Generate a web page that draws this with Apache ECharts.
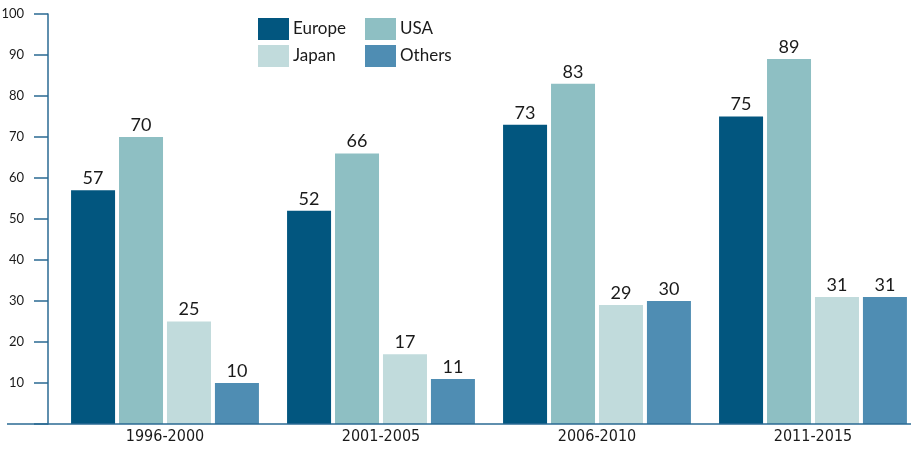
<!DOCTYPE html>
<html>
<head>
<meta charset="UTF-8">
<title>Chart</title>
<script src="https://cdn.jsdelivr.net/npm/echarts@6/dist/echarts.min.js"></script>
<style>
  body { margin: 0; background: #fff; }
  #main { width: 911px; height: 449px; }
</style>
</head>
<body>
<div id="main"></div>
<script>
// data
const periods = ['1996-2000', '2001-2005', '2006-2010', '2011-2015'];
const europe = [57, 52, 73, 75];
const usa = [70, 66, 83, 89];
const japan = [25, 17, 29, 31];
const others = [10, 11, 30, 31];
const yTicks = [10, 20, 30, 40, 50, 60, 70, 80, 90, 100];

const colors = {
  Europe: '#02567f',
  USA: '#8ebfc3',
  Japan: '#c1dbdc',
  Others: '#4f8db3'
};

const FONT = 'Lato';

function bar(name, values) {
  return {
    name: name,
    type: 'bar',
    data: values,
    barWidth: 44,
    barGap: '9%',
    barCategoryGap: '13%',
    itemStyle: { color: colors[name] },
    label: {
      show: true,
      position: 'top',
      distance: 3,
      fontFamily: FONT,
      fontSize: 18,
      color: '#1a1a1a'
    }
  };
}

const chart = echarts.init(document.getElementById('main'), null, { renderer: 'canvas' });

const legendBase = {
  orient: 'vertical',
  top: 13,
  itemWidth: 31,
  itemHeight: 22,
  itemGap: 5,
  icon: 'rect',
  textStyle: { fontFamily: FONT, fontSize: 17, color: '#1a1a1a', padding: [0, 0, 0, -1] }
};

chart.setOption({
  animation: false,
  backgroundColor: '#fff',
  legend: [
    Object.assign({}, legendBase, { left: 253, data: ['Europe', 'Japan'] }),
    Object.assign({}, legendBase, { left: 360, data: ['USA', 'Others'] })
  ],
  grid: { left: 57, top: 14, width: 864, bottom: 25, outerBoundsMode: 'none', containLabel: false },
  xAxis: {
    type: 'category',
    data: periods,
    axisLine: { show: false },
    axisTick: { show: false },
    axisLabel: { fontFamily: 'DejaVu Sans Condensed', fontSize: 16, color: '#1a1a1a', margin: 5 }
  },
  yAxis: {
    type: 'value',
    min: 0,
    max: 100,
    interval: 10,
    offset: 9,
    axisLine: { show: true, lineStyle: { color: '#2a6a93', width: 1.5 } },
    axisTick: { show: true, inside: false, length: 14, lineStyle: { color: '#2a6a93', width: 1.5 } },
    splitLine: { show: false },
    axisLabel: {
      fontFamily: FONT,
      fontSize: 13,
      color: '#1a1a1a',
      margin: 24,
      formatter: function (v) { return yTicks.indexOf(v) >= 0 ? String(v) : ''; }
    }
  },
  series: [
    bar('Europe', europe),
    bar('USA', usa),
    bar('Japan', japan),
    bar('Others', others)
  ]
});

// baseline that runs past the value axis to the left edge
const y0 = chart.convertToPixel({ yAxisIndex: 0 }, 0);
chart.setOption({
  graphic: [{
    type: 'line',
    shape: { x1: 7, y1: y0, x2: 911, y2: y0 },
    style: { stroke: '#2a6a93', lineWidth: 1.5 },
    z: 10
  }]
});
</script>
</body>
</html>
